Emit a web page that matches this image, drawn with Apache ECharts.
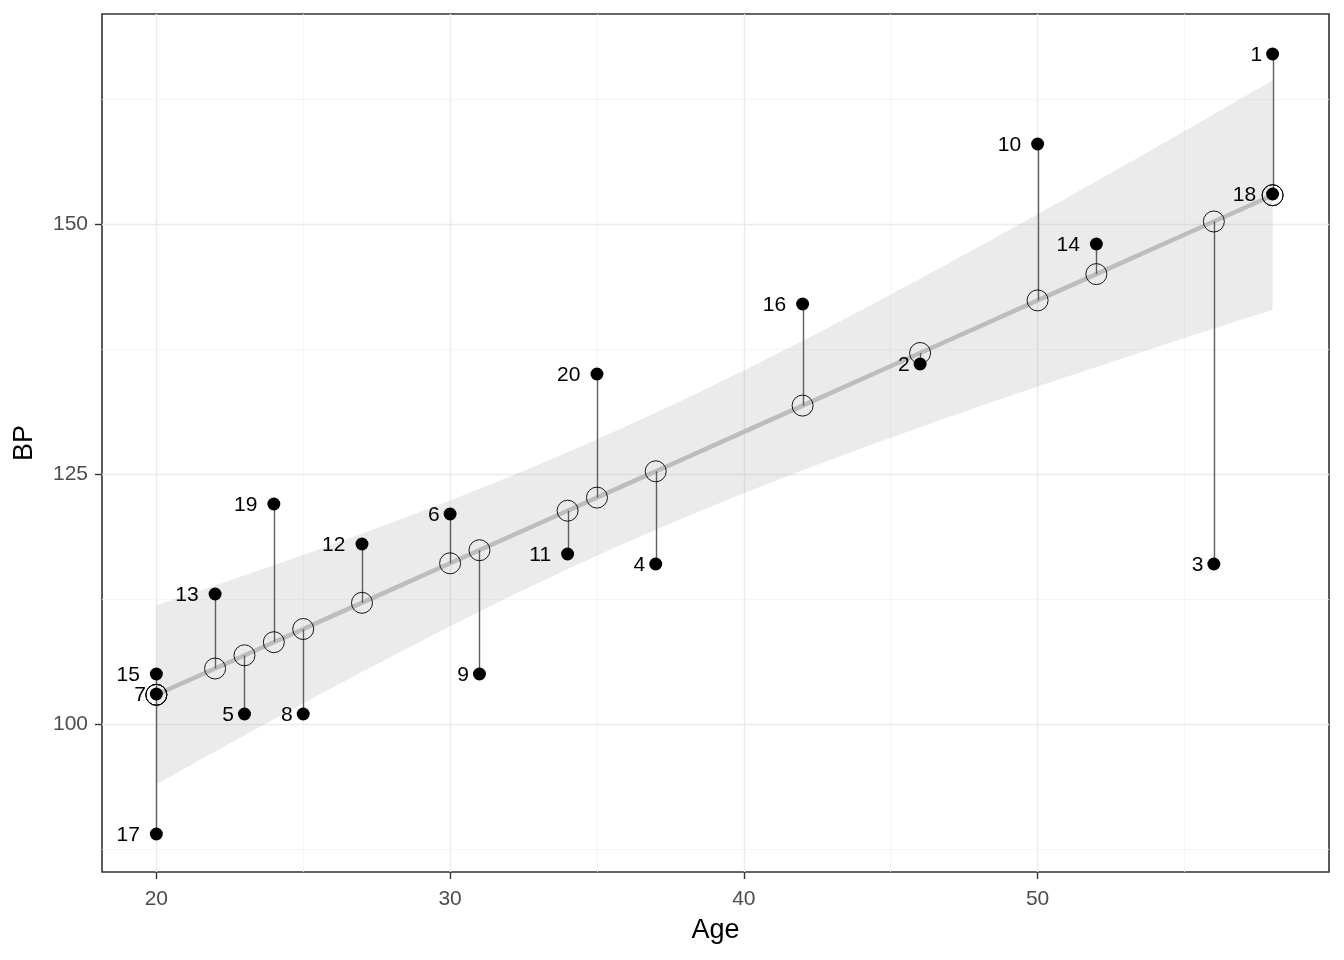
<!DOCTYPE html>
<html>
<head>
<meta charset="utf-8">
<script src="https://cdn.jsdelivr.net/npm/echarts@6/dist/echarts.min.js"></script>
<style>html,body{margin:0;padding:0;background:#fff;}#chart{width:1344px;height:960px;}</style>
</head>
<body>
<div id="chart"></div>
<script>
// Observations
var ids    = [1,2,3,4,5,6,7,8,9,10,11,12,13,14,15,16,17,18,19,20];
var ages   = [58,46,56,37,23,30,20,25,31,50,34,27,22,52,20,42,20,58,24,35];
var bps    = [167,136,116,116,101,121,103,101,105,158,117,118,113,148,105,142,89,153,122,135];
// Fitted values (open circles)
var fitted = [152.88,137.10,150.25,125.27,106.87,116.07,102.92,109.50,117.38,142.36,121.33,112.12,105.55,144.99,102.92,131.84,102.92,152.88,108.18,122.64];
// Smooth line and confidence band
var bandAges  = [20,22,24,26,28,30,32,34,36,38,40,42,44,46,48,50,52,54,56,58];
var bandFit   = [102.92,105.55,108.18,110.81,113.44,116.07,118.70,121.33,123.96,126.58,129.21,131.84,134.47,137.10,139.73,142.36,144.99,147.62,150.25,152.88];
var bandLower = [93.97,97.25,100.48,103.66,106.76,109.78,112.69,115.49,118.15,120.67,123.08,125.37,127.57,129.68,131.74,133.74,135.70,137.63,139.54,141.42];
var bandUpper = [111.87,113.85,115.88,117.96,120.12,122.36,124.71,127.18,129.77,132.49,135.35,138.31,141.37,144.52,147.72,150.98,154.28,157.61,160.97,164.34];
// Axes
var xTicks = [20,30,40,50];
var xMinor = [25,35,45,55];
var yTicks = [100,125,150];
var yMinor = [87.5,112.5,137.5,162.5];

var FONT = '"Liberation Sans", Arial, sans-serif';
var chart = echarts.init(document.getElementById('chart'), null, {renderer:'canvas'});

var gridData = [];
xTicks.forEach(function(v){gridData.push({xAxis:v, lineStyle:{color:'#ebebeb', width:1.4, type:'solid'}});});
xMinor.forEach(function(v){gridData.push({xAxis:v, lineStyle:{color:'#f2f2f2', width:0.8, type:'solid'}});});
yTicks.forEach(function(v){gridData.push({yAxis:v, lineStyle:{color:'#ebebeb', width:1.4, type:'solid'}});});
yMinor.forEach(function(v){gridData.push({yAxis:v, lineStyle:{color:'#f2f2f2', width:0.8, type:'solid'}});});

var bandData = bandAges.map(function(a,i){return [a, bandLower[i], bandUpper[i]];});
var segData = ages.map(function(a,i){return [a, bps[i], fitted[i]];});
var pointData = ages.map(function(a,i){
  var txt = String(ids[i]);
  return {value:[a, bps[i], ids[i]], label:{distance: txt.length > 1 ? 10 : 4}};
});
var fitData = ages.map(function(a,i){return [a, fitted[i]];});
var lineData = bandAges.map(function(a,i){return [a, bandFit[i]];});

var option = {
  animation:false,
  backgroundColor:'#ffffff',
  grid:{left:102, right:15, top:14, bottom:88, show:true, borderColor:'#333333', borderWidth:1.6, backgroundColor:'transparent'},
  xAxis:{
    type:'value', min:18.15, max:59.92,
    name:'Age', nameLocation:'middle', nameGap:45,
    nameTextStyle:{fontSize:27, color:'#000', fontFamily:FONT},
    axisLine:{show:false},
    splitLine:{show:false},
    axisTick:{show:true, length:7, customValues:xTicks, lineStyle:{color:'#333333', width:1.4}},
    axisLabel:{fontSize:21, color:'#4d4d4d', fontFamily:FONT, margin:17, customValues:xTicks}
  },
  yAxis:{
    type:'value', min:85.2, max:171.0,
    name:'BP', nameLocation:'middle', nameGap:64, nameRotate:90,
    nameTextStyle:{fontSize:27, color:'#000', fontFamily:FONT},
    axisLine:{show:false},
    splitLine:{show:false},
    axisTick:{show:true, length:7, customValues:yTicks, lineStyle:{color:'#333333', width:1.4}},
    axisLabel:{fontSize:21, color:'#4d4d4d', fontFamily:FONT, margin:14, customValues:yTicks}
  },
  series:[
    {
      type:'line', data:[], z:0, silent:true,
      markLine:{silent:true, z:0, zlevel:0, symbol:['none','none'], label:{show:false}, animation:false, data:gridData}
    },
    {
      type:'custom', z:10, silent:true, data:bandData,
      renderItem:function(params, api){
        if(params.dataIndex !== 0) return null;
        var pts = [];
        for(var i=0;i<bandAges.length;i++){ pts.push(api.coord([bandAges[i], bandUpper[i]])); }
        for(var j=bandAges.length-1;j>=0;j--){ pts.push(api.coord([bandAges[j], bandLower[j]])); }
        return {type:'polygon', shape:{points:pts}, style:{fill:'rgba(153,153,153,0.2)', stroke:null}};
      }
    },
    {
      type:'line', z:11, silent:true, data:lineData, showSymbol:false, symbol:'none',
      lineStyle:{color:'#bdbdbd', width:4.5}
    },
    {
      type:'custom', z:12, silent:true, data:segData,
      renderItem:function(params, api){
        var p1 = api.coord([api.value(0), api.value(1)]);
        var p2 = api.coord([api.value(0), api.value(2)]);
        var x = Math.round(p1[0]) + 0.5;
        return {type:'line', shape:{x1:x, y1:p1[1], x2:x, y2:p2[1]}, style:{stroke:'#5e5e5e', lineWidth:1.4}};
      }
    },
    {
      type:'scatter', z:13, silent:true, data:pointData, symbol:'circle', symbolSize:13,
      itemStyle:{color:'#000000', opacity:1},
      label:{show:true, position:'left', offset:[0,1.5], fontSize:21, color:'#000', fontFamily:FONT,
        formatter:function(p){return String(p.value[2]);}}
    },
    {
      type:'scatter', z:14, silent:true, data:fitData, symbol:'circle', symbolSize:21,
      itemStyle:{color:'rgba(0,0,0,0)', borderColor:'#000000', borderWidth:0.9, opacity:1}
    }
  ]
};
chart.setOption(option);
</script>
</body>
</html>
